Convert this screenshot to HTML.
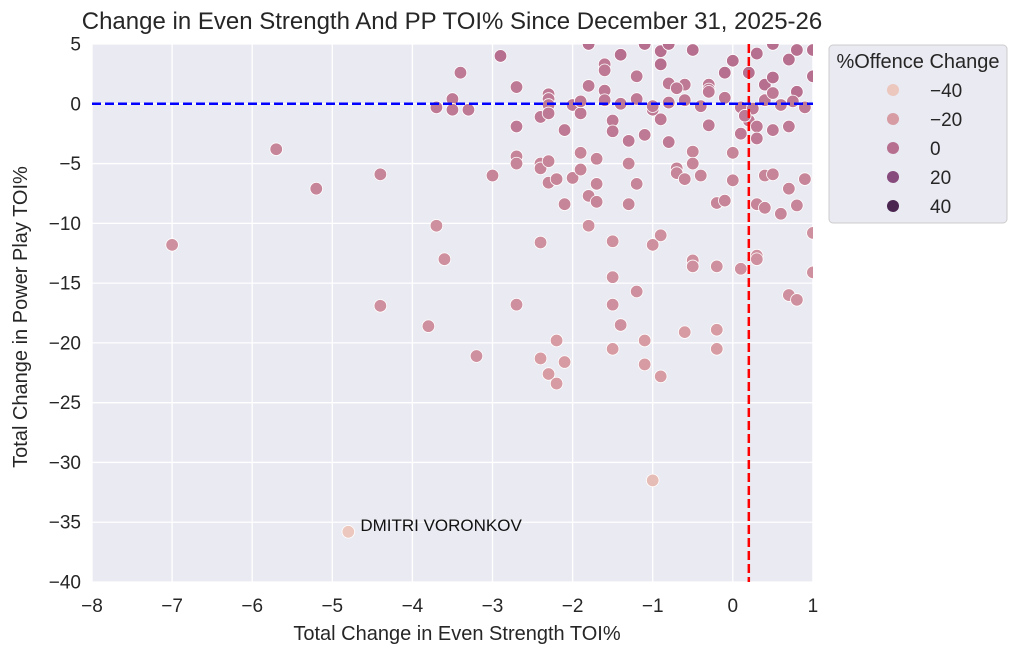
<!DOCTYPE html>
<html><head><meta charset="utf-8"><style>
body{margin:0;background:#fff;}
svg{display:block;font-family:"Liberation Sans","DejaVu Sans",sans-serif;}
</style></head><body>
<svg id="chart" width="1024" height="659" viewBox="0 0 1024 659">
<defs><clipPath id="pc"><rect x="92" y="44" width="721" height="538"/></clipPath></defs>
<text x="452" y="29" font-size="24" text-anchor="middle" fill="#262626">Change in Even Strength And PP TOI% Since December 31, 2025-26</text>
<rect x="92" y="44" width="721" height="538" fill="#eaeaf2"/>
<g id="grid"></g>
<g id="ticks"></g>
<g id="points" clip-path="url(#pc)"></g>
<g id="annot"></g>
<g id="refs"></g>
<text x="457" y="640" font-size="20" text-anchor="middle" fill="#262626">Total Change in Even Strength TOI%</text>
<text transform="translate(27,317) rotate(-90)" font-size="20" text-anchor="middle" fill="#262626">Total Change in Power Play TOI%</text>
<g>
<rect x="829" y="45" width="178" height="178" rx="4" fill="#eaeaf2" stroke="#cccccc"/>
<text x="918" y="68" font-size="20" text-anchor="middle" fill="#262626">%Offence Change</text>
<g id="legend-entries"></g>
</g>
</svg>
<script>
var xs=[-7,-5.7,-5.2,-4.4,-4.4,-4.8,-3.8,-3.7,-3.6,-3.7,-3.5,-3.5,-3.4,-3.3,-3.2,-3,-2.9,-2.7,-2.7,-2.7,-2.7,-2.7,-2.4,-2.4,-2.4,-2.4,-2.4,-2.3,-2.3,-2.3,-2.3,-2.3,-2.3,-2.3,-2.2,-2.2,-2.2,-2.1,-2.1,-2.1,-2,-2,-1.9,-1.9,-1.9,-1.8,-1.8,-1.8,-1.8,-1.7,-1.7,-1.7,-1.6,-1.6,-1.6,-1.5,-1.5,-1.5,-1.5,-1.5,-1.5,-1.4,-1.4,-1.3,-1.3,-1.3,-1.2,-1.2,-1.2,-1.1,-1.1,-1.1,-1.1,-1,-1,-1,-0.9,-0.9,-0.9,-0.9,-0.9,-0.8,-0.8,-0.8,-0.7,-0.7,-0.6,-0.6,-0.6,-0.5,-0.5,-0.5,-0.5,-0.5,-0.4,-0.3,-0.3,-0.2,-0.2,-0.2,-0.2,-0.1,-0.1,0,0,0,0.1,0.1,0.2,0.2,0.3,0.3,0.3,0.3,0.3,0.3,0.4,0.4,0.4,0.5,0.5,0.5,0.5,0.6,0.7,0.7,0.7,0.7,0.8,0.8,0.8,0.8,0.9,0.9,1,1,1,1,-1.9,-1.6,-1.4,-1.2,-1.0,-0.8,-0.6,-0.4,-0.3,-0.1,0.1,0.25,0.4,0.6,0.75,-0.7,-0.3,0.15,0.5];
var ys=[-11.8,-3.8,-7.1,-5.9,-16.9,-35.8,-18.6,-10.2,-13,-0.3,0.4,-0.5,2.6,-0.5,-21.1,-6,4,1.4,-1.9,-4.4,-5,-16.8,-5,-5.4,-1.1,-11.6,-21.3,0.8,0.4,-0.1,-0.8,-4.8,-6.6,-22.6,-6.3,-19.8,-23.4,-8.4,-21.6,-2.2,-0.1,-6.2,-4.1,-5.5,-0.8,-10.2,-7.7,1.5,5,-4.6,-6.7,-8.2,3.3,2.8,1.1,-1.4,-2.3,-11.5,-14.5,-16.8,-20.5,-18.5,4.1,-5,-8.4,-3.1,2.3,-6.7,-15.7,-2.6,-19.8,-21.8,5,-31.5,-11.8,-0.5,-11,-22.8,4.4,3.3,-1.3,1.7,-3.2,5,-5.4,-5.8,-19.1,-6.3,1.6,-13.1,-13.6,-4,-5,4.5,-6,1.6,-1.8,-8.3,-13.6,-18.9,-20.5,-8.1,2.6,3.6,-4.1,-6.4,-13.8,-2.5,2.6,-1.4,4.2,-1.9,-2.9,-8.4,-12.7,-13,-6,-8.7,1.6,2.2,-2.2,-5.9,5,-9.2,-16,-7.1,3.7,-1.9,-16.4,-8.5,4.5,1,-6.3,-0.3,-10.8,-14.1,2.3,4.5,0.2,0.3,0,0.4,-0.2,0.1,0.3,-0.2,1.2,0.5,-0.3,-0.4,0.3,-0.1,0.2,1.3,1.0,-1.0,0.9];
var cs=[-15,-10,-10,-10,-15,-40,-15,-15,-15,-5,-5,-5,-5,-5,-15,-10,0,-5,-5,-10,-10,-15,-10,-10,-5,-15,-20,-5,-5,-5,-5,-10,-10,-20,-10,-20,-20,-10,-20,-5,-5,-10,-10,-10,-5,-15,-10,-5,0,-10,-10,-10,-5,-5,-5,-5,-5,-15,-15,-15,-20,-15,0,-10,-10,-5,-5,-10,-15,-5,-20,-20,0,-35,-15,-5,-15,-20,0,0,-5,-5,-5,0,-10,-10,-20,-10,-5,-15,-15,-10,-10,0,-10,-5,-5,-10,-15,-20,-20,-10,0,0,-10,-10,-15,-5,0,-5,0,-5,-5,-10,-15,-15,-10,-10,0,0,-5,-10,0,-10,-15,-10,0,-5,-15,-10,0,0,-10,-5,-15,-15,0,0,-5,-5,-5,-5,-5,-5,-5,-5,-5,-5,-5,-5,-5,-5,-5,-5,-5,-5,-5];
var xTicks=[-8,-7,-6,-5,-4,-3,-2,-1,0,1];
var yTicks=[5,0,-5,-10,-15,-20,-25,-30,-35,-40];
var legendVals=[-40,-20,0,20,40];
var refX=0.2, refY=0;
var NS="http://www.w3.org/2000/svg";
function sx(v){return 92+(v+8)*80.1;}
function sy(v){return 44+(5-v)*11.956;}
var stops=[[-40,[235,199,190]],[-20,[214,155,163]],[0,[182,111,143]],[20,[135,74,124]],[40,[74,37,80]]];
function col(v){v=Math.max(-40,Math.min(40,v));for(var i=0;i<4;i++){var a=stops[i],b=stops[i+1];if(v<=b[0]){var t=(v-a[0])/(b[0]-a[0]);return "rgb("+a[1].map(function(c,k){return Math.round(c+(b[1][k]-c)*t);}).join(",")+")";}}return "rgb(74,37,80)";}
function mk(tag,at,parent){var e=document.createElementNS(NS,tag);for(var k in at)e.setAttribute(k,at[k]);parent.appendChild(e);return e;}
var g=document.getElementById('grid'),tk=document.getElementById('ticks');
xTicks.forEach(function(t){
 var l=mk('line',{x1:sx(t),x2:sx(t),y1:44,y2:582,stroke:'#fff','stroke-width':1.3},g);
 
 
 var tx=mk('text',{x:sx(t),y:612,'font-size':19,'text-anchor':'middle',fill:'#262626'},tk);
 tx.textContent=(t<0?'\u2212'+(-t):t);
 
 
});
yTicks.forEach(function(t){
 var l=mk('line',{x1:92,x2:813,y1:sy(t),y2:sy(t),stroke:'#fff','stroke-width':1.3},g);
 
 
 var tx=mk('text',{x:81,y:sy(t)+6.5,'font-size':19,'text-anchor':'end',fill:'#262626'},tk);
 tx.textContent=(t<0?'\u2212'+(-t):t);
 
 
});
var p=document.getElementById('points');
for(var i=0;i<xs.length;i++){
 var c=mk('circle',{cx:sx(xs[i]),cy:sy(ys[i]),r:6.3,fill:col(cs[i]),stroke:'#fff','stroke-width':0.8},p);
 
 
}
var lab=mk('text',{x:sx(-4.8)+12,y:sy(-35.8)-1,'font-size':17,fill:'#111'},document.getElementById('annot'));
lab.textContent='DMITRI VORONKOV';


var r=document.getElementById('refs');
var rl=mk('line',{x1:sx(refX),x2:sx(refX),y1:44,y2:582,stroke:'#ff0000','stroke-width':2.5,'stroke-dasharray':'9,4'},r);


var bl=mk('line',{x1:92,x2:813,y1:sy(refY),y2:sy(refY),stroke:'#0000ff','stroke-width':2.5,'stroke-dasharray':'9,4'},r);


var le=document.getElementById('legend-entries');
legendVals.forEach(function(v,k){
 var y=90+k*29;
 var c=mk('circle',{cx:893,cy:y,r:6,fill:col(v)},le);
 
 
 var t=mk('text',{x:930,y:y+7,'font-size':19,fill:'#262626'},le);
 t.textContent=(v<0?'\u2212'+(-v):v);
 
 
});
</script>
</body></html>
